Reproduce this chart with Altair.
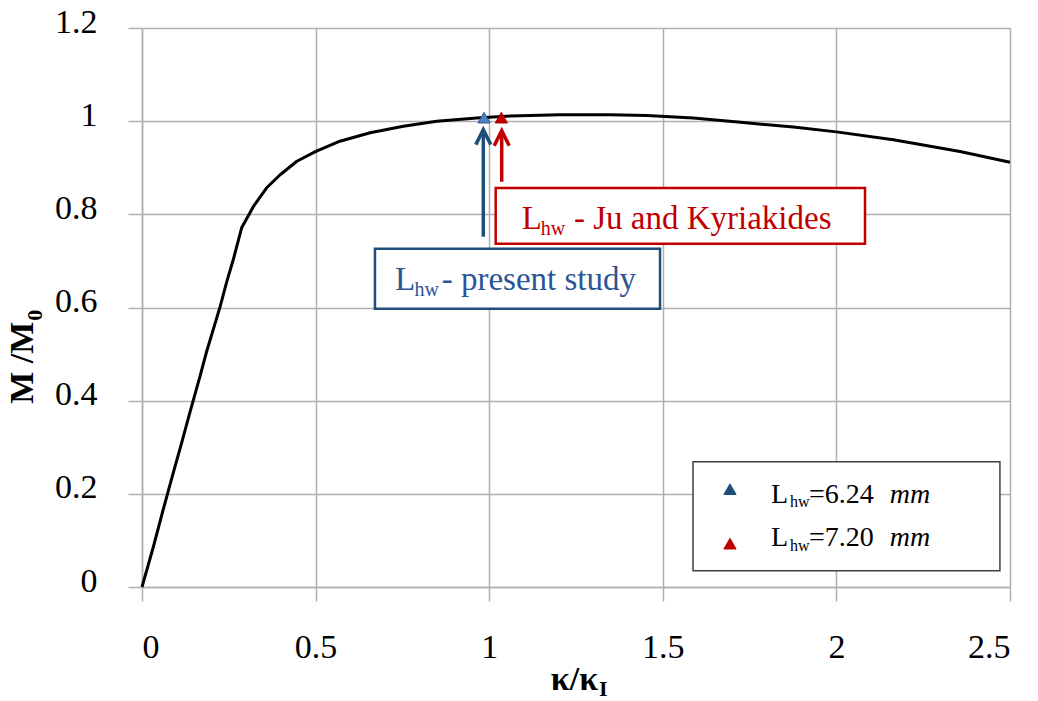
import altair as alt
import pandas as pd

# ---- curve data ----
kappa = [0.0, 0.033, 0.061, 0.090, 0.114, 0.138, 0.167, 0.186,
         0.225, 0.244, 0.263, 0.287, 0.321, 0.359, 0.398, 0.446, 0.501, 0.570, 0.657,
         0.753, 0.849, 0.964, 1.060, 1.204, 1.348, 1.454, 1.588, 1.732, 1.876, 2.000,
         2.164, 2.356, 2.500]
moment = [0.0, 0.087, 0.166, 0.245, 0.309, 0.375, 0.452, 0.505,
          0.602, 0.655, 0.703, 0.771, 0.817, 0.857, 0.885, 0.914, 0.935, 0.957, 0.975,
          0.989, 1.000, 1.007, 1.011, 1.014, 1.014, 1.012, 1.007, 0.997, 0.9875, 0.977,
          0.960, 0.935, 0.912]

# ---- markers (plot + legend) ----
marker_x = [0.985, 1.035, 1.6935, 1.6935]
marker_y = [1.0075, 1.0075, 0.210, 0.093]
marker_fill = ["#4f81bd", "#c00000", "#1f4e79", "#c00000"]
marker_stroke = ["#2c5595", "#a00000", "#1f4e79", "#c00000"]

# ---- arrows ----
arrow_x = [0.983, 1.036]
arrow_tip = [0.9818, 0.9796]
arrow_base = [0.752, 0.870]
arrow_color = ["#1f4e79", "#c00000"]

# ---- boxes ----
box_x1 = [0.671, 1.0187, 1.587]
box_x2 = [1.492, 2.0824, 2.471]
box_y1 = [0.7263, 0.8566, 0.269]
box_y2 = [0.5975, 0.737, 0.035]
box_stroke = ["#1f4e79", "#c00000", "#404040"]
box_width = [2.5, 2.5, 1.5]

BLUE_T = "#2c5595"
RED_T = "#c00000"
# regular serif texts, left aligned
reg_text = ["L", "hw", "- present study", "L", "hw", "- Ju and Kyriakides",
            "L", "hw", "=6.24", "L", "hw", "=7.20"]
reg_x = [0.7287, 0.7849, 0.8632, 1.0936, 1.1483, 1.2442,
         1.8116, 1.8664, 1.921, 1.8116, 1.8664, 1.921]
reg_y = [0.6383, 0.6254, 0.6383, 0.7686, 0.7563, 0.7686,
         0.1803, 0.1709, 0.1803, 0.0872, 0.0764, 0.0872]
reg_size = [33, 20, 33, 33, 20, 33, 28, 16, 28, 28, 16, 28]
reg_color = [BLUE_T, BLUE_T, BLUE_T, RED_T, RED_T, RED_T,
             "#000000", "#000000", "#000000", "#000000", "#000000", "#000000"]
# italic units
ital_text = ["mm", "mm"]
ital_x = [2.154, 2.154]
ital_y = [0.1803, 0.0872]
# axis titles (bold)
bold_r_text = ["κ/κ", "M /M"]
bold_r_x = [1.3134, -0.3139]
bold_r_y = [-0.2205, 0.5696]
bold_r_angle = [0, 270]
bold_l_text = ["I", "0"]
bold_l_x = [1.3163, -0.2880]
bold_l_y = [-0.2345, 0.5717]
bold_l_angle = [0, 270]

FONT = "Liberation Serif"
GRID = "#b0b0b0"

xs = alt.Scale(domain=[0, 2.5], nice=False, zero=False)
ys = alt.Scale(domain=[0, 1.2], nice=False, zero=False)
X = alt.X("x:Q", scale=xs, title=None,
          axis=alt.Axis(values=[0, 0.5, 1, 1.5, 2, 2.5], format="~g",
                        labelBaseline="top", labelPadding=29))
Y = alt.Y("y:Q", scale=ys, title=None,
          axis=alt.Axis(values=[0, 0.2, 0.4, 0.6, 0.8, 1, 1.2], format="~g",
                        labelPadding=31, labelOffset=-6))

line_df = pd.DataFrame({"x": kappa, "y": moment})
line = alt.Chart(line_df).mark_line(color="black", strokeWidth=3, strokeJoin="round").encode(x=X, y=Y)

box_df = pd.DataFrame({"x": box_x1, "x2": box_x2, "y": box_y1, "y2": box_y2,
                       "stroke": box_stroke, "sw": box_width})
boxes = alt.Chart(box_df).mark_rect(fill="white").encode(
    x=X, x2="x2:Q", y=Y, y2="y2:Q",
    stroke=alt.Stroke("stroke:N", scale=None),
    strokeWidth=alt.StrokeWidth("sw:Q", scale=None))

arr_df = pd.DataFrame({"x": arrow_x, "y": arrow_tip, "y2": arrow_base, "c": arrow_color})
shafts = alt.Chart(arr_df).mark_rule(strokeWidth=3.5).encode(
    x=X, y=Y, y2="y2:Q", color=alt.Color("c:N", scale=None))
heads = alt.Chart(arr_df).mark_point(shape="M-0.5,1L0,0L0.5,1", size=900, filled=False,
                                     strokeWidth=3.5, opacity=1, strokeJoin="miter").encode(
    x=X, y=Y, stroke=alt.Stroke("c:N", scale=None))

mk_df = pd.DataFrame({"x": marker_x, "y": marker_y, "f": marker_fill, "s": marker_stroke})
markers = alt.Chart(mk_df).mark_point(shape="triangle-up", size=150, filled=True,
                                      opacity=1, strokeWidth=1).encode(
    x=X, y=Y, fill=alt.Fill("f:N", scale=None), stroke=alt.Stroke("s:N", scale=None))

reg_df = pd.DataFrame({"x": reg_x, "y": reg_y, "t": reg_text, "s": reg_size, "c": reg_color})
reg = alt.Chart(reg_df).mark_text(font=FONT, align="left", baseline="alphabetic").encode(
    x=X, y=Y, text="t:N", size=alt.Size("s:Q", scale=None), color=alt.Color("c:N", scale=None))

ital_df = pd.DataFrame({"x": ital_x, "y": ital_y, "t": ital_text})
ital = alt.Chart(ital_df).mark_text(font=FONT, fontStyle="italic", fontSize=28, align="left",
                                    baseline="alphabetic", color="black").encode(
    x=X, y=Y, text="t:N")

br_df = pd.DataFrame({"x": bold_r_x, "y": bold_r_y, "t": bold_r_text, "a": bold_r_angle})
bold_r = alt.Chart(br_df).mark_text(font=FONT, fontWeight="bold", fontSize=34, align="right",
                                    baseline="alphabetic", color="black").encode(
    x=X, y=Y, text="t:N", angle=alt.Angle("a:Q", scale=None))

bl_df = pd.DataFrame({"x": bold_l_x, "y": bold_l_y, "t": bold_l_text, "a": bold_l_angle})
bold_l = alt.Chart(bl_df).mark_text(font=FONT, fontWeight="bold", fontSize=22, align="left",
                                    baseline="alphabetic", color="black").encode(
    x=X, y=Y, text="t:N", angle=alt.Angle("a:Q", scale=None))

chart = alt.layer(line, boxes, shafts, heads, markers, reg, ital, bold_r, bold_l).properties(
    width=868, height=559,
    autosize=alt.AutoSizeParams(type="none"),
    padding={"left": 134, "top": 20, "right": 20, "bottom": 113},
    background="white",
).configure_view(stroke=None).configure_axis(
    grid=True, gridColor=GRID, gridWidth=1.5,
    domainColor=GRID, domainWidth=1.5,
    tickColor=GRID, tickWidth=1.5, tickSize=14,
    labelFont=FONT, labelFontSize=34, labelColor="black",
)

chart.save("out.html", embed_options={"renderer": "svg", "actions": False})
